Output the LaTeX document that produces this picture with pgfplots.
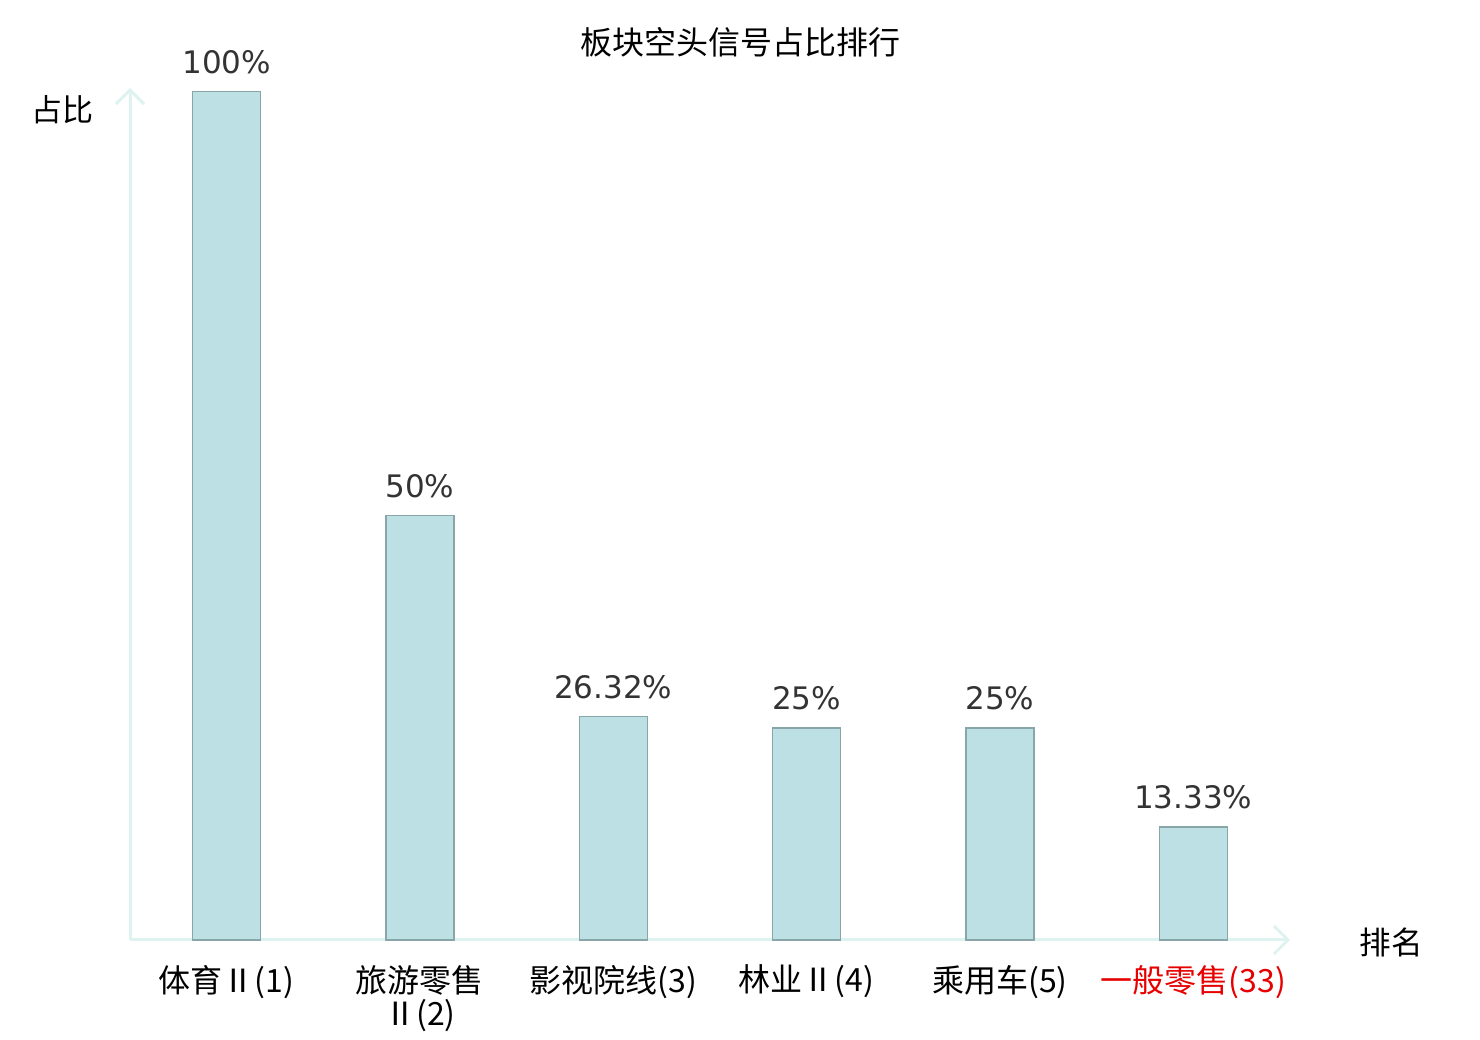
\documentclass[border=0pt]{standalone}
\usepackage{pgfplots}
\pgfplotsset{compat=1.18}
\usepackage{fontspec}
\setmainfont{DejaVu Sans}
\newfontfamily\cjk{Noto Sans CJK SC}
\usetikzlibrary{arrows.meta}
\definecolor{barfill}{RGB}{188,224,227}
\definecolor{baredge}{RGB}{136,165,168}
\definecolor{axiscol}{RGB}{222,242,240}
\definecolor{labcol}{RGB}{51,51,51}
\definecolor{redlab}{RGB}{230,0,0}
\begin{document}
\begin{tikzpicture}
\begin{axis}[
  at={(65pt,50pt)}, anchor=south west,
  scale only axis, width=580pt, height=426pt,
  xmin=-0.5, xmax=5.5, ymin=0, ymax=100.4,
  axis lines=left,
  axis line style={draw=axiscol, line width=1.5pt, -{Straight Barb[length=7pt,width=14pt,line width=1.5pt]}},
  ytick=\empty,
  xtick={0,1,2,3,4,5},
  xticklabels={体育Ⅱ(1), {旅游零售\\Ⅱ(2)}, 影视院线(3), 林业Ⅱ(4), 乘用车(5), \textcolor{redlab}{一般零售(33)}},
  major tick length=0pt,
  xticklabel style={font=\cjk\fontsize{16}{16.5}\selectfont, align=center, text=black, yshift=-9pt},
  ybar, bar width=34pt,
  nodes near coords={\pgfmathprintnumber{\pgfplotspointmeta}\%},
  nodes near coords style={font=\fontsize{15.5}{18}\selectfont, text=labcol, yshift=5pt, /pgf/number format/assume math mode=true},
  clip=false,
]
\addplot[fill=barfill, draw=baredge, line width=0.8pt] coordinates {
  (0,100) (1,50) (2,26.32) (3,25) (4,25) (5,13.33)
};
\end{axis}
\node[font=\cjk\fontsize{16}{17}\selectfont] at (370pt,499pt) {板块空头信号占比排行};
\node[font=\cjk\fontsize{15.5}{17}\selectfont] at (31.5pt,465pt) {占比};
\node[font=\cjk\fontsize{15.8}{17}\selectfont] at (695.5pt,49pt) {排名};
\pgfresetboundingbox
\path (0,0) rectangle (740pt,520pt);
\end{tikzpicture}
\end{document}
